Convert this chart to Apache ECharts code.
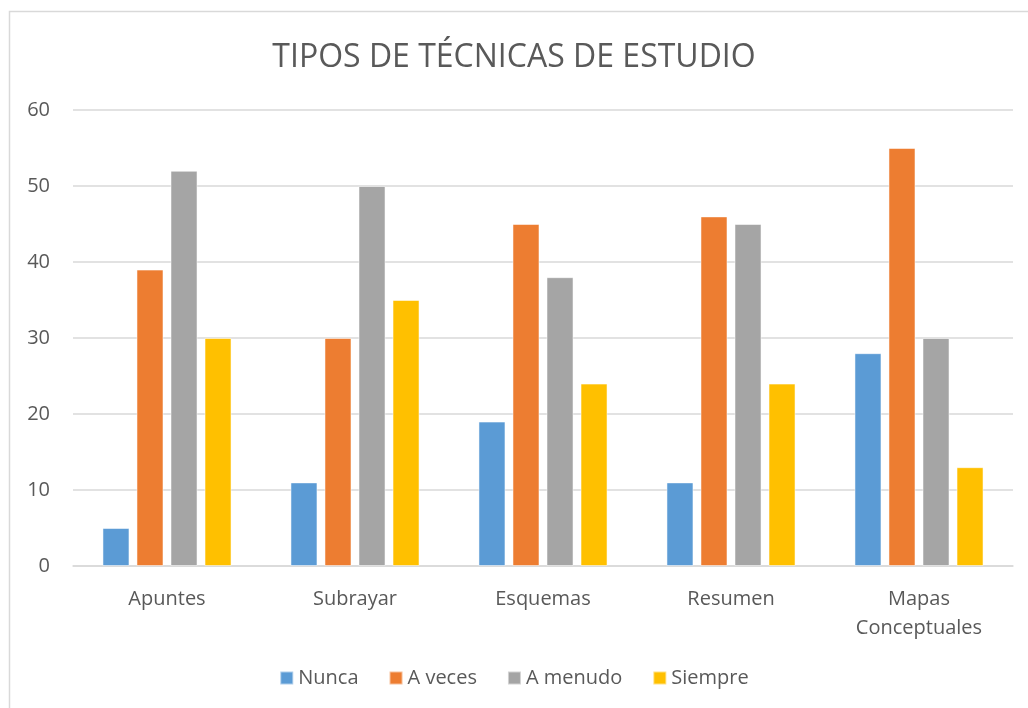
<!DOCTYPE html>
<html>
<head>
<meta charset="utf-8">
<script src="https://cdn.jsdelivr.net/npm/echarts@6/dist/echarts.min.js"></script>
<style>
  html, body { margin: 0; padding: 0; background: #fff; }
  #chart { width: 1028px; height: 708px; }
</style>
</head>
<body>
<div id="chart"></div>
<script>
  // categorias y series
  var categories = ['Apuntes', 'Subrayar', 'Esquemas', 'Resumen', 'Mapas\nConceptuales'];
  var nunca = [5, 11, 19, 11, 28];
  var aVeces = [39, 30, 45, 46, 55];
  var aMenudo = [52, 50, 38, 45, 30];
  var siempre = [30, 35, 24, 24, 13];
  var seriesNames = ['Nunca', 'A veces', 'A menudo', 'Siempre'];
  var colors = ['#5B9BD5', '#ED7D31', '#A5A5A5', '#FFC000'];

  var textColor = '#595959';
  var font = 'Open Sans';

  function makeBar(name, data) {
    return {
      name: name,
      type: 'bar',
      data: data,
      barWidth: 27,
      barGap: '26%',
      itemStyle: {
        borderColor: 'rgba(255,255,255,0.5)',
        borderWidth: 1
      }
    };
  }

  var myChart = echarts.init(document.getElementById('chart'));
  var option = {
    backgroundColor: '#fff',
    color: colors,
    animation: false,
    title: {
      text: 'TIPOS DE TÉCNICAS DE ESTUDIO',
      left: 'center',
      top: 37,
      textStyle: {
        color: textColor,
        fontFamily: font,
        fontWeight: 'normal',
        fontSize: 32
      }
    },
    graphic: [{
      type: 'rect',
      shape: { x: 9.5, y: 11.5, width: 1100, height: 800 },
      style: { fill: 'none', stroke: '#D9D9D9', lineWidth: 1.5 },
      silent: true
    }],
    legend: {
      data: seriesNames,
      bottom: 15,
      left: 'center',
      icon: 'rect',
      itemWidth: 13,
      itemHeight: 13,
      itemGap: 30,
      textStyle: {
        color: textColor,
        fontFamily: font,
        fontSize: 20
      }
    },
    grid: {
      left: 73,
      right: 15,
      top: 110,
      bottom: 142
    },
    xAxis: {
      type: 'category',
      data: categories,
      axisLine: { lineStyle: { color: '#D9D9D9', width: 1.5 } },
      axisTick: { show: false },
      axisLabel: {
        color: textColor,
        fontFamily: font,
        fontSize: 20,
        margin: 19,
        lineHeight: 29
      }
    },
    yAxis: {
      type: 'value',
      min: 0,
      max: 60,
      interval: 10,
      axisLine: { show: false },
      axisTick: { show: false },
      splitLine: { lineStyle: { color: '#D9D9D9', width: 1.5 } },
      axisLabel: {
        color: textColor,
        fontFamily: font,
        fontSize: 20,
        margin: 23
      }
    },
    series: [
      makeBar(seriesNames[0], nunca),
      makeBar(seriesNames[1], aVeces),
      makeBar(seriesNames[2], aMenudo),
      makeBar(seriesNames[3], siempre)
    ]
  };
  myChart.setOption(option);
  window.onresize = function() { myChart.resize(); };
</script>
</body>
</html>
